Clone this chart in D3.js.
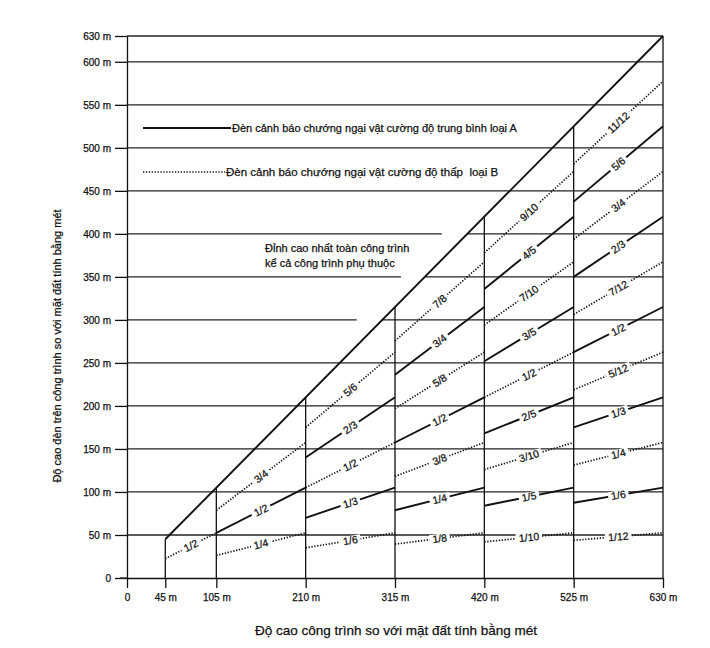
<!DOCTYPE html>
<html>
<head>
<meta charset="utf-8">
<title>Độ cao đèn cảnh báo chướng ngại vật</title>
<style>
  body { margin: 0; background: #fff; }
  svg text { font-family: 'Liberation Sans', Arial, sans-serif; fill: #111; stroke: #111; stroke-width: 0.25px; white-space: pre; }
  .y_axis path, .x_axis path { stroke: #111; stroke-width: 1.3; }
  .y_axis line, .x_axis line { stroke: #111; stroke-width: 1.3; }
  .y_axis text, .x_axis text { font-size: 10px; fill: #111; }
  .grid { stroke: #222; stroke-width: 1.3; }
  .vert { stroke: #111; stroke-width: 1.3; }
  .solid { stroke: #111; stroke-width: 1.9; fill: none; }
  .dotted { stroke: #111; stroke-width: 1.7; stroke-dasharray: 1.3,1.6; fill: none; }
  .frac { font-size: 10.5px; }
</style>
<script src="https://d3js.org/d3.v7.min.js"></script>
</head>
<body>
<div id="chart"></div>
<script>
// tick values
var yTicks = [0, 50, 100, 150, 200, 250, 300, 350, 400, 450, 500, 550, 600, 630];
var xTicks = [0, 45, 105, 210, 315, 420, 525, 630];

// gridlines that stop short on the left of the diagonal (value, where it stops)
var gridCut = [300, 350, 400];
var gridCutEnd = [270, 322, 370];

// building height bands and the light heights (fraction of total height) in each
var segStart = [45, 105, 210, 315, 420, 525];
var segEnd = [105, 210, 315, 420, 525, 630];
var segLabels = [
  ["1/2"],
  ["1/4", "1/2", "3/4"],
  ["1/6", "1/3", "1/2", "2/3", "5/6"],
  ["1/8", "1/4", "3/8", "1/2", "5/8", "3/4", "7/8"],
  ["1/10", "1/5", "3/10", "2/5", "1/2", "3/5", "7/10", "4/5", "9/10"],
  ["1/12", "1/6", "1/4", "1/3", "5/12", "1/2", "7/12", "2/3", "3/4", "5/6", "11/12"]
];
// A = medium intensity (solid), B = low intensity (dotted)
var segTypes = ["B", "BAB", "BABAB", "BABABAB", "BABABABAB", "BABABABABAB"];

var legendA = "Đèn cảnh báo chướng ngại vật cường độ trung bình loại A";
var legendB = "Đèn cảnh báo chướng ngại vật cường độ thấp  loại B";
var topNote = ["Đỉnh cao nhất toàn công trình", "kể cả công trình phụ thuộc"];
var xTitle = "Độ cao công trình so với mặt đất tính bằng mét";
var yTitle = "Độ cao đèn trên công trình so với mặt đất tính bằng mét";

var width = 710, height = 648;

var x = d3.scaleLinear().domain([0, 630]).range([127, 663]);
var y = d3.scaleLinear().domain([0, 630]).range([578, 36]);

var svg = d3.select("#chart")
            .append("svg")
            .attr("width", width)
            .attr("height", height);

function fmt_m(d) { return d === 0 ? "0" : d + " m"; }
function frac(s) { var p = s.split("/"); return +p[0] / +p[1]; }

// horizontal gridlines
yTicks.filter(function(d) { return d > 0; }).forEach(function(v) {
  var k = gridCut.indexOf(v);
  var parts = k < 0 ? [[0, 630]] : [[0, gridCutEnd[k]], [v, 630]];
  parts.forEach(function(p) {
    svg.append("line").attr("class", "grid")
       .attr("x1", x(p[0])).attr("x2", x(p[1]))
       .attr("y1", y(v)).attr("y2", y(v));
  });
});

// vertical lines at each band edge, up to the top of the building
svg.selectAll(".vert")
   .data(xTicks.filter(function(d) { return d > 0; }))
   .enter()
   .append("line")
   .attr("class", "vert")
   .attr("x1", function(d) { return x(d); })
   .attr("x2", function(d) { return x(d); })
   .attr("y1", y(0))
   .attr("y2", function(d) { return y(d); });

// axes
var y_axis = d3.axisLeft(y).tickValues(yTicks).tickSize(12).tickSizeOuter(0)
               .tickPadding(4).tickFormat(fmt_m);
svg.append("g").attr("class", "y_axis")
   .attr("transform", "translate(" + x(0) + ",0)")
   .call(y_axis);

var x_axis = d3.axisBottom(x).tickValues(xTicks).tickSize(10).tickSizeOuter(0)
               .tickPadding(6).tickFormat(fmt_m);
svg.append("g").attr("class", "x_axis")
   .attr("transform", "translate(0," + y(0) + ")")
   .call(x_axis);
svg.append("line").attr("class", "grid")
   .attr("x1", x(0) - 7).attr("x2", x(0))
   .attr("y1", y(0)).attr("y2", y(0));

var line = d3.line().x(function(d) { return x(d[0]); }).y(function(d) { return y(d[1]); });

// top of building: diagonal
var first = segStart[0], last = segEnd[segEnd.length - 1];
svg.append("path").attr("class", "solid")
   .attr("d", line([[first, first], [last, last]]));

// light lines with inline labels
var kx = x(1) - x(0), ky = y(0) - y(1);
segLabels.forEach(function(labels, i) {
  var s = segStart[i], e = segEnd[i];
  labels.forEach(function(lab, j) {
    var f = frac(lab);
    var cls = segTypes[i][j] === "A" ? "solid" : "dotted";
    svg.append("path").attr("class", cls)
       .attr("d", line([[s, f * s], [e, f * e]]));

    var m = (s + e) / 2;
    var ang = Math.atan2(-f * ky, kx) * 180 / Math.PI;
    var g = svg.append("g")
               .attr("transform", "translate(" + x(m) + "," + y(f * m) + ") rotate(" + ang + ")");
    var rect = g.append("rect").attr("fill", "#fff");
    var t = g.append("text").attr("class", "frac")
             .attr("text-anchor", "middle")
             .attr("dy", "0.35em")
             .text(lab);
    var tw = t.node().getComputedTextLength();
    rect.attr("x", -tw / 2 - 3).attr("y", -4.5).attr("width", tw + 6).attr("height", 9);
  });
});

// legend
svg.append("line").attr("class", "solid")
   .attr("x1", 143).attr("x2", 231).attr("y1", 128).attr("y2", 128);
svg.append("text").attr("x", 232).attr("y", 128).attr("dy", "0.35em")
   .style("font-size", "11px").text(legendA);
svg.append("line").attr("class", "dotted")
   .attr("x1", 143).attr("x2", 225).attr("y1", 172).attr("y2", 172);
svg.append("text").attr("x", 226).attr("y", 172).attr("dy", "0.35em")
   .style("font-size", "11.5px").text(legendB);

svg.selectAll(".note")
   .data(topNote)
   .enter()
   .append("text")
   .attr("class", "note")
   .attr("x", 265)
   .attr("y", function(d, i) { return 248 + i * 15; })
   .attr("dy", "0.35em")
   .style("font-size", "11px")
   .text(function(d) { return d; });

// axis titles
svg.append("text").attr("x", 396).attr("y", 630).attr("dy", "0.35em")
   .attr("text-anchor", "middle").style("font-size", "13.5px").text(xTitle);
svg.append("text")
   .attr("transform", "translate(57,346) rotate(-90)")
   .attr("text-anchor", "middle").attr("dy", "0.35em")
   .style("font-size", "11px").text(yTitle);
</script>
</body>
</html>
